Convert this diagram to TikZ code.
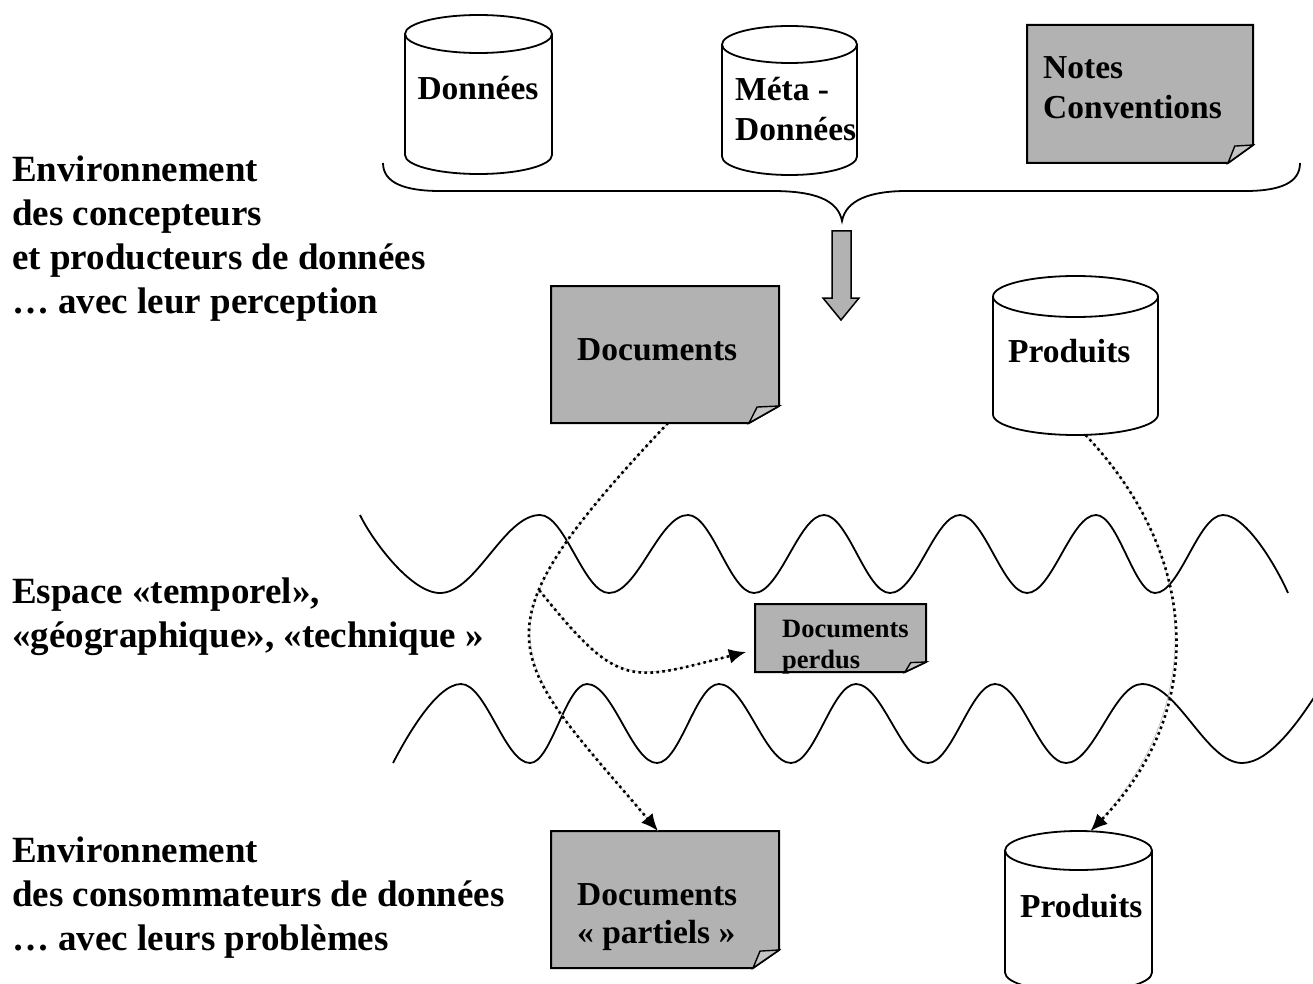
\documentclass[tikz,border=0pt]{standalone}
\usepackage{fontspec}
\setmainfont{Liberation Serif}
\usetikzlibrary{arrows.meta}
\definecolor{sheetgray}{RGB}{178,178,178}
\definecolor{foldgray}{RGB}{196,196,196}
\newcommand{\topline}{\rule{0pt}{0.8em}}
% white drum: name, west, north, east, south, half height of the rim
\newcommand{\drum}[6]{%
  \node[slot, minimum width={#4-#2}, minimum height={#5-#3}] (#1) at ({(#2+#4)/2},{(#3+#5)/2}) {};
  \draw[drumline] (#2,#3+#6) -- (#2,#5-#6) arc [start angle=180, end angle=0, x radius={(#4-#2)/2}, y radius=#6] -- (#4,#3+#6);
  \draw[drumline] ({(#2+#4)/2},#3+#6) ellipse [x radius={(#4-#2)/2}, y radius=#6];
}
% gray sheet with a turned corner: name, west, north, east, south, fold width, fold height
\newcommand{\sheet}[7]{%
  \node[slot, minimum width={#4-#2}, minimum height={#5-#3}] (#1) at ({(#2+#4)/2},{(#3+#5)/2}) {};
  \draw[sheetline] (#2,#3) -- (#4,#3) -- (#4,#5-#7) -- (#4-#6,#5) -- (#2,#5) -- cycle;
  \draw[foldline] (#4-#6,#5) -- (#4-0.73*#6,#5-0.94*#7) -- (#4,#5-#7) -- cycle;
}
\tikzset{
  slot/.style={inner sep=0, outer sep=0},
  drumline/.style={line width=1.8pt, fill=white},
  sheetline/.style={line width=2pt, fill=sheetgray, line join=miter},
  foldline/.style={line width=1.4pt, fill=foldgray},
  bracket/.style={line width=1.8pt},
  ripple/.style={line width=1.8pt},
  trail/.style={line width=2.6pt, dash pattern=on 2.6pt off 3.4pt,
    -{Latex[length=17pt,width=15pt]},
    preaction={draw=black!25, line width=0.7pt, solid, arrows=-}},
  boxtext/.style={font=\fontsize{33.5}{#1}\selectfont\bfseries, inner sep=0, align=left},
  boxtext/.default=40,
  sidetext/.style={font=\fontsize{37}{#1}\selectfont\bfseries, inner sep=0, align=left, anchor=north west},
}
\begin{document}
\begin{tikzpicture}[x=1pt, y=-1pt]
  \useasboundingbox (0,0) rectangle (1313,984);
  \clip (0,0) rectangle (1313,984);
  % stores
  \drum{data}{405}{15}{552}{174}{19}
  \drum{meta}{722}{26}{857}{175}{18.5}
  \drum{prod}{993}{276}{1158}{435}{20.5}
  \drum{prodb}{1005}{831}{1152}{992}{19.5}
  % sheets
  \sheet{notes}{1027}{25}{1253}{163}{25}{18}
  \sheet{docs}{551}{286}{779}{423}{30}{17}
  \sheet{lost}{755}{604}{926}{672}{21}{10}
  \sheet{part}{551}{831}{779}{968}{26}{18}
  % brace and block arrow
  \draw[bracket] (383,163) .. controls (383,183) and (405,191) .. (440,191) -- (772,191)
    .. controls (815,191) and (838,200) .. (842,221)
    .. controls (846,200) and (870,191) .. (907,191) -- (1245,191)
    .. controls (1280,191) and (1300,183) .. (1300,163);
  \draw[sheetline, line width=1.5pt] (832,231) -- (851,231) -- (851,298) -- (859,298)
    -- (841,320) -- (823,298) -- (832,298) -- cycle;
  % waves
  \draw[ripple] (360,515) .. controls (372,540) and (411,593) .. (440,593)
    .. controls (476,593) and (504,515) .. (540,515)
    .. controls (565,515) and (584,593) .. (609,593)
    .. controls (638,593) and (659,515) .. (688,515)
    .. controls (712,515) and (730,593) .. (754,593)
    .. controls (780,593) and (799,515) .. (824,515)
    .. controls (848,515) and (866,593) .. (890,593)
    .. controls (916,593) and (935,515) .. (960,515)
    .. controls (984,515) and (1003,593) .. (1027,593)
    .. controls (1052,593) and (1071,515) .. (1096,515)
    .. controls (1118,515) and (1134,593) .. (1155,593)
    .. controls (1180,593) and (1198,515) .. (1223,515)
    .. controls (1247,515) and (1278,570) .. (1288,593);
  \draw[ripple] (393,763) .. controls (405,740) and (436,684) .. (461,684)
    .. controls (486,684) and (505,763) .. (530,763)
    .. controls (551,763) and (566,684) .. (587,684)
    .. controls (613,684) and (632,763) .. (657,763)
    .. controls (680,763) and (696,684) .. (719,684)
    .. controls (745,684) and (765,763) .. (791,763)
    .. controls (815,763) and (832,684) .. (856,684)
    .. controls (882,684) and (902,763) .. (928,763)
    .. controls (952,763) and (971,684) .. (995,684)
    .. controls (1021,684) and (1040,763) .. (1066,763)
    .. controls (1094,763) and (1114,684) .. (1142,684)
    .. controls (1178,684) and (1206,763) .. (1242,763)
    .. controls (1270,763) and (1300,720) .. (1320,688);
  % dotted flows
  \draw[trail] ([xshift=3pt]docs.south) .. controls (466,637) and (506,652) .. ([xshift=-7pt]part.north)
    coordinate[pos=0.35] (split);
  \draw[trail] (split) .. controls (620,691) and (630,681) .. ([xshift=-9pt,yshift=-14pt]lost.west);
  \draw[trail] ([xshift=10pt]prod.south) .. controls (1204,560) and (1204,715) .. ([xshift=12pt]prodb.north);
  % labels
  \node[boxtext, anchor=base] (datatxt) at (478,100) {Données};
  \node[boxtext, anchor=north west] (metatxt) at (735,73.2) {\topline Méta -\\Données};
  \node[boxtext, anchor=north west] (notestxt) at (1043,51.2) {\topline Notes\\Conventions};
  \node[boxtext, anchor=base west] (docstxt) at (577,360) {Documents};
  \node[boxtext, anchor=base west] (prodtxt) at (1008,362) {Produits};
  \node[anchor=north west, inner sep=0, align=left, font=\fontsize{26.5}{31}\selectfont\bfseries] (losttxt) at (782,615.8) {\topline Documents\\perdus};
  \node[boxtext=38, anchor=north west] (parttxt) at (577,878.2) {\topline Documents\\« partiels »};
  \node[boxtext, anchor=base west] (prodbtxt) at (1020,917) {Produits};
  \node[sidetext=44] (makers) at (12,151.4) {\topline Environnement\\des concepteurs\\et producteurs de données\\… avec leur perception};
  \node[sidetext=44] (space) at (12,573.4) {\topline Espace «temporel»,\\«géographique», «technique »};
  \node[sidetext=44] (users) at (12,832.4) {\topline Environnement\\des consommateurs de données\\… avec leurs problèmes};
\end{tikzpicture}
\end{document}
